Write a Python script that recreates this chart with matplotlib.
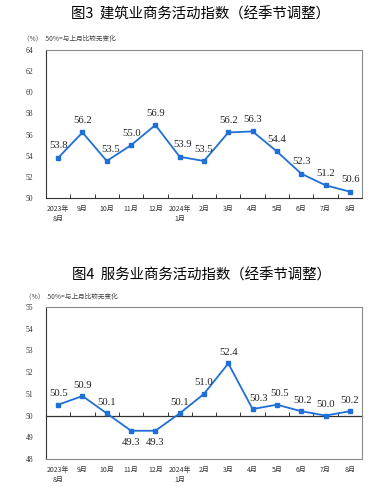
import matplotlib
matplotlib.use("Agg")
import matplotlib.pyplot as plt

plt.rcParams['font.family'] = ['Noto Sans CJK SC', 'DejaVu Sans']

categories = ["2023年\n8月", "9月", "10月", "11月", "12月", "2024年\n1月",
              "2月", "3月", "4月", "5月", "6月", "7月", "8月"]
construction = [53.8, 56.2, 53.5, 55.0, 56.9, 53.9, 53.5, 56.2, 56.3, 54.4, 52.3, 51.2, 50.6]
services = [50.5, 50.9, 50.1, 49.3, 49.3, 50.1, 51.0, 52.4, 50.3, 50.5, 50.2, 50.0, 50.2]
title3 = "图3  建筑业商务活动指数（经季节调整）"
title4 = "图4  服务业商务活动指数（经季节调整）"
unit_note = "（%）  50%=与上月比较无变化"
yticks3 = [50, 52, 54, 56, 58, 60, 62, 64]
yticks4 = [48, 49, 50, 51, 52, 53, 54, 55]

BLUE = '#1f6fd6'
W, H = 377, 493
fig = plt.figure(figsize=(W / 100, H / 100), dpi=100)

def ax_rect(left, top, right, bottom):
    return [left / W, 1 - bottom / H, (right - left) / W, (bottom - top) / H]

serif = 'Liberation Serif'

def style_axes(ax, yticks):
    x = list(range(len(categories)))
    ax.set_xlim(-0.5, len(categories) - 0.5)
    ax.set_ylim(yticks[0], yticks[-1])
    ax.set_yticks(yticks)
    ax.set_yticklabels([str(v) for v in yticks], fontsize=5.5, family=serif, color='#333333')
    ax.tick_params(axis='y', length=0, pad=9)
    ax.set_xticks(x)
    ax.set_xticklabels(categories, fontsize=5, linespacing=1.3, color='#333333')
    ax.tick_params(axis='x', which='major', length=0, pad=5)
    for s in ['top', 'right', 'bottom']:
        ax.spines[s].set_color('#8c8c8c')
        ax.spines[s].set_linewidth(0.8)
    ax.spines['left'].set_color('#333333')
    ax.spines['left'].set_linewidth(0.8)
    return x

# ---------- Chart 1 ----------
fig.text(200 / W, 1 - 14 / H, title3, ha='center', va='center', fontsize=10.4)
fig.text(23 / W, 1 - 39 / H, unit_note, ha='left', va='center', fontsize=4.8, color='#444444')
ax1 = fig.add_axes(ax_rect(46, 50, 362, 198))
x = style_axes(ax1, yticks3)
ax1.spines['bottom'].set_color('#333333')
ax1.set_xticks([i + 0.5 for i in range(len(categories) - 1)], minor=True)
ax1.tick_params(axis='x', which='minor', direction='in', length=3, width=0.7, color='#333333')
ax1.plot(x, construction, color=BLUE, lw=1.3, marker='s', ms=3.2, zorder=3)
dx1 = [0, 0, 4, 1, 0, 3, 0, 0, 0, 0, 0, 0, 1]
for i, v in enumerate(construction):
    ax1.annotate(f"{v:.1f}", (i, v), xytext=(dx1[i], 12), textcoords='offset pixels',
                 ha='center', va='center', fontsize=7.7, family=serif, color='#222222')

# ---------- Chart 2 ----------
fig.text(201 / W, 1 - 275 / H, title4, ha='center', va='center', fontsize=10.4)
fig.text(25 / W, 1 - 297 / H, unit_note, ha='left', va='center', fontsize=4.8, color='#444444')
ax2 = fig.add_axes(ax_rect(46, 307, 362, 459))
x = style_axes(ax2, yticks4)
loc = (50 - yticks4[0]) / (yticks4[-1] - yticks4[0])
sec = ax2.secondary_xaxis(loc)
sec.spines['bottom'].set_color('#333333')
sec.spines['bottom'].set_linewidth(0.9)
sec.set_xticks([i + 0.5 for i in range(len(categories) - 1)])
sec.set_xticklabels([])
sec.tick_params(axis='x', direction='in', length=3, width=0.7, color='#333333')
ax2.plot(x, services, color=BLUE, lw=1.3, marker='s', ms=3.2, zorder=3)
dx2 = [0, 0, 0, 0, 0, 0, 0, 0, 6, 3, 1, 0, 0]
for i, v in enumerate(services):
    dy = -12 if v < 50 else 11
    ax2.annotate(f"{v:.1f}", (i, v), xytext=(dx2[i], dy), textcoords='offset pixels',
                 ha='center', va='center', fontsize=7.7, family=serif, color='#222222')

fig.savefig('out.png', dpi=100)
